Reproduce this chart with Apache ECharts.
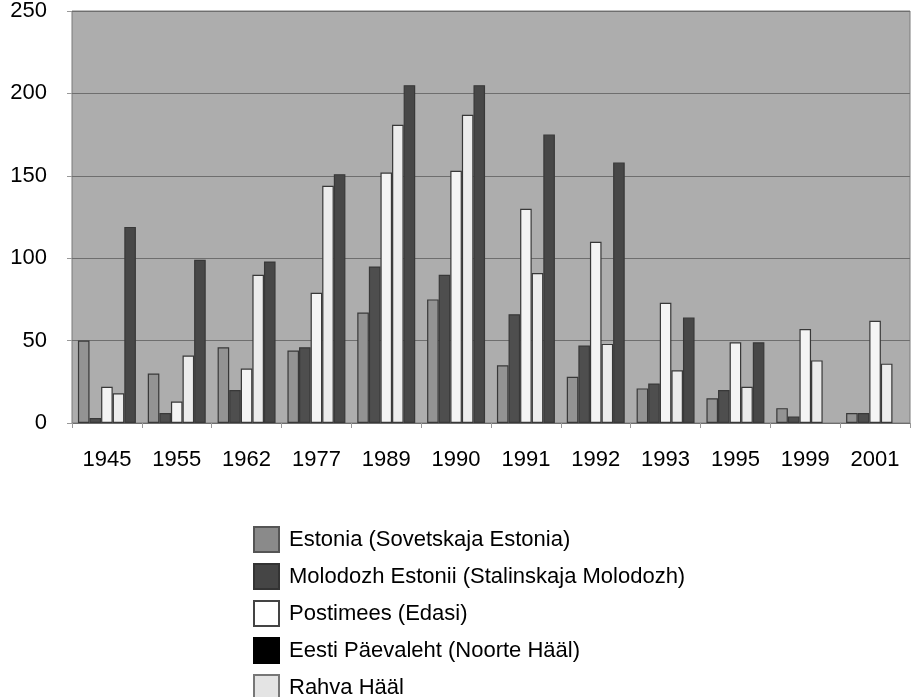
<!DOCTYPE html>
<html>
<head>
<meta charset="utf-8">
<script src="https://cdn.jsdelivr.net/npm/echarts@6/dist/echarts.min.js"></script>
<style>
	html, body {margin:0;padding:0;background:#fff;}
	#chart {width:914px;height:697px;}
</style>
</head>
<body>
<div id="chart"></div>
<script>
var years = ['1945','1955','1962','1977','1989','1990','1991','1992','1993','1995','1999','2001'];
var yTicks = [0, 50, 100, 150, 200, 250];
//每份报纸的数值
var estonia = [50, 30, 46, 44, 67, 75, 35, 28, 21, 15, 9, 6];
var molodozh = [3, 6, 20, 46, 95, 90, 66, 47, 24, 20, 4, 6];
var postimees = [22, 13, 33, 79, 152, 153, 130, 110, 73, 49, 57, 62];
var rahvaHaal = [18, 41, 90, 144, 181, 187, 91, 48, 32, 22, 38, 36];
var paevaleht = [119, 99, 98, 151, 205, 205, 175, 158, 64, 49, null, null];

var names = {
	estonia: 'Estonia (Sovetskaja Estonia)',
	molodozh: 'Molodozh Estonii (Stalinskaja Molodozh)',
	postimees: 'Postimees (Edasi)',
	paevaleht: 'Eesti Päevaleht (Noorte Hääl)',
	rahva: 'Rahva Hääl'
};

var font = "'Liberation Sans', Arial, sans-serif";

function bar(name, data, fill){
	return {
		name: name,
		type: 'bar',
		data: data,
		barGap: '0%',
		barCategoryGap: '17%',
		itemStyle: {color: fill, borderColor: '#383838', borderWidth: 1.2}
	};
}

var option = {
	backgroundColor: '#fff',
	animation: false,
	grid: {
		left: 72, right: 4, top: 11, bottom: 274,
		show: true,
		backgroundColor: '#adadad',
		borderColor: '#7a7a7a',
		borderWidth: 1
	},
	legend: {
		orient: 'vertical',
		left: 253,
		top: 526,
		height: 190,
		padding: 0,
		itemWidth: 25,
		itemHeight: 25,
		itemGap: 10,
		icon: 'rect',
		textStyle: {fontFamily: font, fontSize: 22, lineHeight: 25, color: '#000', padding: [0, 0, 0, 5]},
		data: [
			{name: names.estonia, itemStyle: {color: '#8a8a8a', borderColor: '#555'}},
			{name: names.molodozh, itemStyle: {color: '#454545', borderColor: '#333'}},
			{name: names.postimees, itemStyle: {color: '#fff', borderColor: '#444'}},
			{name: names.paevaleht, itemStyle: {color: '#000', borderColor: '#000'}},
			{name: names.rahva, itemStyle: {color: '#e4e4e4', borderColor: '#777'}}
		]
	},
	xAxis: {
		type: 'category',
		data: years,
		axisLine: {show: false},
		axisTick: {show: true, length: 5, lineStyle: {color: '#999'}},
		axisLabel: {fontFamily: font, fontSize: 22, color: '#000', margin: 26}
	},
	yAxis: {
		type: 'value',
		min: yTicks[0],
		max: yTicks[yTicks.length - 1],
		interval: 50,
		axisLine: {show: false},
		axisTick: {show: true, length: 5, lineStyle: {color: '#999'}},
		splitLine: {show: true, lineStyle: {color: '#6e6e6e', width: 1}},
		axisLabel: {fontFamily: font, fontSize: 22, color: '#000', margin: 25}
	},
	series: [
		bar(names.estonia, estonia, '#939393'),
		bar(names.molodozh, molodozh, '#4e4e4e'),
		bar(names.postimees, postimees, '#f4f4f4'),
		bar(names.rahva, rahvaHaal, '#ececec'),
		bar(names.paevaleht, paevaleht, '#474747')
	]
};

var myChart = echarts.init(document.getElementById('chart'));
myChart.setOption(option);
</script>
</body>
</html>
